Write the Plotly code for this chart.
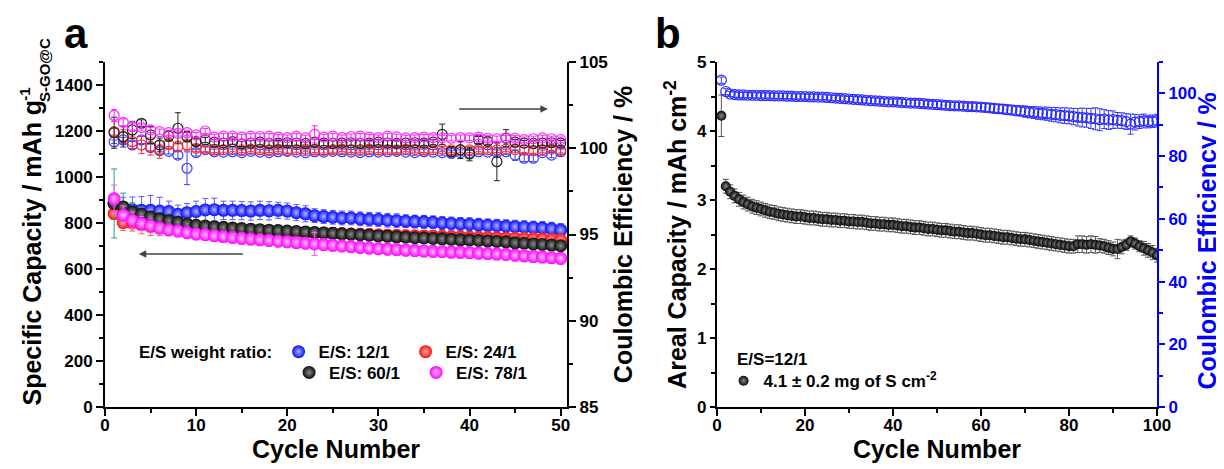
import plotly.graph_objects as go

# ---------------- Panel a data ----------------
cycles_a = list(range(1, 51))

cap_12 = [885, 862, 858, 855, 855, 852, 850, 838, 845, 850, 857, 858, 855, 855, 854, 852, 855, 853, 855, 852,
          845, 840, 832, 828, 825, 822, 822, 818, 816, 815, 812, 810, 808, 806, 805, 803, 800, 798, 796, 795,
          792, 790, 788, 786, 784, 782, 780, 778, 775, 770]
err_12 = [30, 50, 55, 60, 65, 60, 45, 40, 40, 45, 50, 50, 40, 40, 40, 40, 40, 40, 35, 35,
          35, 35, 30, 30, 30, 30, 30, 30, 30, 30, 30, 30, 28, 28, 28, 28, 28, 28, 28, 28,
          28, 28, 28, 28, 28, 28, 28, 28, 28, 28]
cap_24 = [841, 802, 800, 793, 785, 780, 776, 774, 772, 771, 770, 769, 768, 767, 766, 765, 764, 763, 762, 761,
          760, 758, 757, 756, 755, 753, 752, 751, 750, 748, 747, 746, 745, 744, 743, 742, 741, 740, 739, 738,
          737, 736, 735, 734, 733, 732, 731, 730, 728, 726]
err_24 = [25, 35, 35, 40, 40, 35, 30, 30, 25, 25, 25, 25, 25, 25, 25, 25, 25, 25, 25, 25,
          25, 25, 25, 25, 25, 25, 25, 25, 25, 25, 25, 25, 25, 25, 25, 25, 25, 25, 25, 25,
          25, 25, 25, 25, 25, 25, 25, 25, 25, 25]
cap_60 = [885, 870, 848, 838, 826, 818, 810, 803, 796, 790, 787, 784, 781, 778, 776, 773, 771, 769, 767, 765,
          763, 761, 759, 757, 755, 753, 751, 749, 747, 744, 742, 740, 738, 736, 735, 733, 731, 729, 727, 726,
          724, 722, 720, 718, 714, 712, 709, 707, 704, 701]
err_60 = [150, 60, 40, 30, 25, 25, 22, 22, 20, 20, 20, 20, 20, 20, 20, 20, 20, 20, 20, 20,
          20, 20, 20, 20, 20, 20, 20, 20, 20, 20, 20, 20, 20, 20, 20, 20, 20, 20, 20, 20,
          20, 20, 20, 20, 20, 20, 20, 20, 20, 20]
cap_78 = [905, 834, 812, 798, 788, 778, 770, 765, 758, 752, 749, 745, 741, 737, 733, 730, 727, 724, 721, 718,
          715, 712, 709, 706, 703, 700, 697, 694, 691, 688, 686, 684, 682, 680, 678, 676, 675, 673, 672, 671,
          669, 667, 665, 663, 660, 657, 654, 652, 649, 646]
err_78 = [60, 40, 35, 30, 30, 25, 25, 25, 25, 25, 25, 25, 25, 25, 25, 25, 25, 25, 25, 25,
          25, 25, 50, 25, 25, 25, 25, 25, 25, 25, 25, 25, 25, 25, 25, 25, 25, 25, 25, 25,
          25, 25, 25, 25, 25, 25, 25, 25, 25, 25]

ce_12 = [100.38, 100.48, 100.19, 100.48, 100.04, 99.86, 99.82, 99.6, 98.84, 99.75, 99.92, 99.8, 99.78, 99.8,
         99.75, 99.82, 99.78, 99.75, 99.8, 99.82, 99.78, 99.75, 99.8, 99.78, 99.82, 99.8, 99.78, 99.75, 99.8,
         99.78, 99.8, 99.82, 99.78, 99.75, 99.8, 99.78, 99.75, 99.7, 99.75, 99.72, 99.8, 99.78, 99.75, 99.8,
         99.6, 99.42, 99.42, 99.75, 99.6, 99.8]
ce_err_12 = [0.1, 0.15, 0.2, 0.2, 0.2, 0.2, 0.15, 0.2, 0.95, 0.2, 0.15, 0.15, 0.15, 0.15, 0.15, 0.15, 0.15,
             0.15, 0.15, 0.15, 0.15, 0.15, 0.15, 0.15, 0.15, 0.15, 0.15, 0.15, 0.15, 0.15, 0.15, 0.15, 0.15,
             0.15, 0.15, 0.15, 0.15, 0.15, 0.15, 0.15, 0.15, 0.15, 0.15, 0.15, 0.3, 0.2, 0.2, 0.15, 0.15, 0.15]
ce_24 = [100.96, 100.67, 100.38, 100.19, 100.1, 99.92, 100.25, 100.1, 100.19, 100.0, 99.95, 99.9, 99.92,
         99.95, 99.9, 99.95, 99.92, 99.9, 99.95, 99.88, 99.92, 99.95, 99.9, 99.88, 99.92, 99.95, 99.9, 99.92,
         99.95, 99.9, 99.92, 99.9, 99.95, 99.92, 99.9, 99.92, 99.95, 99.9, 99.92, 99.9, 99.95, 99.92, 99.9,
         99.95, 99.92, 99.9, 99.85, 99.92, 99.95, 99.88]
ce_err_24 = [0.2, 0.4, 0.4, 0.5, 0.5, 0.5, 0.3, 0.3, 0.3, 0.2, 0.15, 0.15, 0.15, 0.15, 0.15, 0.15, 0.15,
             0.15, 0.15, 0.15, 0.15, 0.15, 0.15, 0.15, 0.15, 0.15, 0.15, 0.15, 0.15, 0.15, 0.15, 0.15, 0.15,
             0.15, 0.15, 0.15, 0.15, 0.15, 0.15, 0.15, 0.15, 0.15, 0.15, 0.15, 0.15, 0.15, 0.15, 0.15, 0.15, 0.15]
ce_60 = [100.9, 100.67, 101.06, 101.45, 100.77, 100.19, 100.71, 101.16, 100.67, 100.38, 100.48, 100.35, 100.3,
         100.38, 100.25, 100.3, 100.35, 100.28, 100.3, 100.32, 100.3, 100.28, 100.35, 100.3, 100.28, 100.3,
         100.32, 100.28, 100.3, 100.35, 100.3, 100.28, 100.3, 100.32, 100.3, 100.35, 100.8, 99.8, 99.9, 99.67,
         100.48, 100.4, 99.22, 100.58, 100.35, 100.3, 100.28, 100.3, 100.32, 100.3]
ce_err_60 = [0.9, 0.6, 0.5, 0.2, 0.5, 0.4, 0.3, 0.9, 0.3, 0.2, 0.15, 0.15, 0.15, 0.15, 0.15, 0.15, 0.15,
             0.15, 0.15, 0.15, 0.15, 0.15, 0.15, 0.15, 0.15, 0.15, 0.15, 0.15, 0.15, 0.15, 0.15, 0.15, 0.15,
             0.15, 0.15, 0.15, 0.6, 0.3, 0.5, 0.4, 0.2, 0.2, 1.1, 0.5, 0.15, 0.15, 0.15, 0.15, 0.15, 0.15]
ce_78 = [101.9, 101.5, 101.25, 101.2, 101.06, 100.96, 100.9, 100.86, 100.9, 100.77, 101.0, 100.65, 100.7,
         100.7, 100.65, 100.7, 100.68, 100.7, 100.65, 100.62, 100.7, 100.6, 100.8, 100.65, 100.7, 100.62,
         100.68, 100.7, 100.65, 100.62, 100.7, 100.66, 100.6, 100.62, 100.65, 100.62, 100.6, 100.58, 100.62,
         100.6, 100.65, 100.58, 100.55, 100.6, 100.58, 100.5, 100.55, 100.6, 100.55, 100.5]
ce_err_78 = [0.35, 0.2, 0.2, 0.15, 0.15, 0.15, 0.15, 0.15, 0.15, 0.15, 0.15, 0.15, 0.15, 0.15, 0.15, 0.15,
             0.15, 0.15, 0.15, 0.15, 0.15, 0.15, 0.5, 0.15, 0.15, 0.15, 0.15, 0.15, 0.15, 0.15, 0.15, 0.15,
             0.15, 0.15, 0.15, 0.15, 0.15, 0.15, 0.15, 0.15, 0.15, 0.15, 0.15, 0.15, 0.15, 0.15, 0.15, 0.15,
             0.15, 0.15]

labels_a = ["E/S: 12/1", "E/S: 24/1", "E/S: 60/1", "E/S: 78/1"]

# ---------------- Panel b data ----------------
cycles_b = list(range(1, 101))
cap_b = [4.22, 3.20, 3.12, 3.06, 3.01, 2.97, 2.94, 2.91, 2.89, 2.87,
         2.85, 2.83, 2.82, 2.80, 2.79, 2.78, 2.77, 2.76, 2.76, 2.75,
         2.74, 2.74, 2.73, 2.72, 2.72, 2.71, 2.71, 2.70, 2.70, 2.69,
         2.69, 2.68, 2.68, 2.67, 2.66, 2.66, 2.65, 2.65, 2.64, 2.64,
         2.63, 2.62, 2.62, 2.61, 2.60, 2.60, 2.59, 2.58, 2.58, 2.57,
         2.56, 2.56, 2.55, 2.54, 2.54, 2.53, 2.52, 2.52, 2.51, 2.50,
         2.49, 2.49, 2.48, 2.47, 2.46, 2.46, 2.45, 2.44, 2.43, 2.43,
         2.42, 2.41, 2.40, 2.39, 2.38, 2.37, 2.36, 2.35, 2.34, 2.33,
         2.33, 2.36, 2.36, 2.35, 2.36, 2.35, 2.34, 2.33, 2.31, 2.29,
         2.29, 2.32, 2.35, 2.40, 2.37, 2.33, 2.30, 2.27, 2.24, 2.20]
cap_b_err = [0.30, 0.10, 0.10, 0.10, 0.10, 0.10, 0.10, 0.10, 0.10, 0.10,
             0.10, 0.10, 0.10, 0.10, 0.10, 0.10, 0.10, 0.10, 0.10, 0.10,
             0.10, 0.10, 0.10, 0.10, 0.10, 0.10, 0.10, 0.10, 0.10, 0.10,
             0.10, 0.10, 0.10, 0.10, 0.10, 0.10, 0.10, 0.10, 0.10, 0.10,
             0.10, 0.10, 0.10, 0.10, 0.10, 0.10, 0.10, 0.10, 0.10, 0.10,
             0.10, 0.10, 0.10, 0.10, 0.10, 0.10, 0.10, 0.10, 0.10, 0.10,
             0.10, 0.10, 0.10, 0.10, 0.10, 0.10, 0.10, 0.10, 0.10, 0.10,
             0.10, 0.10, 0.10, 0.10, 0.10, 0.10, 0.10, 0.10, 0.10, 0.10,
             0.10, 0.12, 0.12, 0.12, 0.12, 0.12, 0.10, 0.10, 0.10, 0.10,
             0.14, 0.10, 0.08, 0.08, 0.08, 0.08, 0.10, 0.10, 0.10, 0.10]
ce_b = [104.2, 100.6, 99.8, 99.6, 99.5, 99.5, 99.4, 99.4, 99.4, 99.3,
        99.3, 99.3, 99.2, 99.2, 99.2, 99.1, 99.1, 99.0, 99.0, 99.0,
        98.9, 98.9, 98.8, 98.8, 98.7, 98.6, 98.5, 98.4, 98.3, 98.2,
        98.1, 98.0, 97.9, 97.8, 97.7, 97.6, 97.5, 97.4, 97.3, 97.3,
        97.2, 97.1, 97.0, 96.9, 96.9, 96.8, 96.7, 96.6, 96.5, 96.4,
        96.3, 96.2, 96.1, 96.0, 96.0, 95.9, 95.8, 95.8, 95.7, 95.6,
        95.5, 95.4, 95.2, 95.1, 95.0, 94.8, 94.7, 94.5, 94.4, 94.2,
        94.0, 93.9, 93.7, 93.6, 93.5, 93.3, 93.2, 93.0, 92.9, 92.8,
        92.6, 92.4, 92.3, 92.2, 92.0, 91.9, 91.6, 91.8, 91.5, 91.6,
        91.4, 91.3, 91.0, 90.2, 90.8, 91.0, 91.2, 91.0, 91.1, 91.3]
ce_b_err = [1.0, 1.0, 0.8, 0.8, 0.8, 0.8, 0.8, 0.8, 0.8, 0.8,
            0.8, 0.8, 0.8, 0.8, 0.8, 0.8, 0.8, 0.8, 0.8, 0.8,
            0.8, 0.8, 0.8, 0.8, 0.8, 0.8, 0.8, 0.8, 0.8, 0.8,
            0.9, 0.9, 0.9, 0.9, 0.9, 0.9, 0.9, 0.9, 0.9, 0.9,
            1.0, 1.0, 1.0, 1.0, 1.0, 1.0, 1.0, 1.0, 1.0, 1.0,
            1.1, 1.1, 1.1, 1.1, 1.1, 1.1, 1.1, 1.2, 1.2, 1.2,
            1.3, 1.3, 1.3, 1.4, 1.4, 1.5, 1.5, 1.6, 1.6, 1.8,
            1.8, 1.9, 2.0, 2.0, 2.1, 2.2, 2.3, 2.4, 2.5, 2.5,
            2.6, 2.8, 3.0, 3.0, 3.2, 3.5, 3.5, 3.0, 3.0, 2.8,
            2.5, 2.5, 2.5, 3.2, 2.5, 2.2, 2.2, 2.0, 2.0, 2.0]

label_b = "4.1 ± 0.2 mg of S cm<sup>-2</sup>"

# ---------------- styles ----------------
FONT = "Liberation Sans, Arial, sans-serif"
fill_colors = ["#0a0aff", "#ff0a0a", "#0a0a0a", "#ff00ff"]
glow_colors = ["#aab4ff", "#ffb0b0", "#8a8a8a", "#ffc0ff"]
bar_colors = ["#5a5aff", "#ff5a5a", "#3a9a8a", "#ff5aff"]
open_colors = ["#3a3aff", "#ff2a2a", "#222222", "#ff22ff"]

fig = go.Figure()

ce_sets = [(ce_12, ce_err_12), (ce_24, ce_err_24), (ce_60, ce_err_60), (ce_78, ce_err_78)]
for i, (ce, er) in enumerate(ce_sets):
    fig.add_trace(go.Scatter(
        x=cycles_a, y=ce, xaxis="x", yaxis="y2", mode="markers", showlegend=False,
        marker=dict(symbol="circle-open", size=10, color=open_colors[i], line=dict(width=1.2)),
        error_y=dict(type="data", array=er, color=open_colors[i], thickness=1, width=3),
    ))

cap_sets = [(cap_12, err_12), (cap_24, err_24), (cap_60, err_60), (cap_78, err_78)]
legend_ids = ["legend", "legend", "legend2", "legend2"]
for i, (cp, er) in enumerate(cap_sets):
    fig.add_trace(go.Scatter(
        x=cycles_a, y=cp, xaxis="x", yaxis="y", mode="markers", name=labels_a[i],
        legend=legend_ids[i],
        marker=dict(size=13, color=fill_colors[i], line=dict(width=0),
                    gradient=dict(type="radial", color=glow_colors[i])),
        error_y=dict(type="data", array=er, color=bar_colors[i], thickness=1, width=3),
    ))

fig.add_trace(go.Scatter(
    x=cycles_b, y=ce_b, xaxis="x2", yaxis="y4", mode="markers", showlegend=False,
    marker=dict(symbol="circle-open", size=10, color="#2a2aff", line=dict(width=1.2)),
    error_y=dict(type="data", array=ce_b_err, color="#3a3aff", thickness=1, width=3),
))
fig.add_trace(go.Scatter(
    x=cycles_b, y=cap_b, xaxis="x2", yaxis="y3", mode="markers", name=label_b, legend="legend3",
    marker=dict(size=10, color="#050505", line=dict(width=0),
                gradient=dict(type="radial", color="#8a8a8a")),
    error_y=dict(type="data", array=cap_b_err, color="#555555", thickness=1, width=3),
))

tickfont = dict(family=FONT, size=17, color="black", weight="bold")
titlefont = dict(family=FONT, size=25, color="black", weight="bold")

common = dict(showline=True, linewidth=2, linecolor="black", ticks="outside", tickwidth=2,
              tickcolor="black", showgrid=False, zeroline=False, tickfont=tickfont, automargin=False)
top_common = dict(showline=True, linewidth=2, linecolor="black", ticks="inside", ticklen=7, tickwidth=2,
                  tickcolor="black", showticklabels=False, showgrid=False, zeroline=False, automargin=False)

def minor(step, color="black"):
    return dict(dtick=step, ticks="outside", ticklen=4, tickwidth=2, tickcolor=color)

dom_a = [0, 0.4392]
dom_b = [0.5817, 1]

fig.update_layout(
    width=1216, height=461,
    margin=dict(l=97, r=67, t=54, b=62, autoexpand=False),
    paper_bgcolor="white", plot_bgcolor="white",
    font=dict(family=FONT, color="black"),
    xaxis=dict(domain=dom_a, range=[0, 50.7], anchor="y", dtick=10, tick0=0, ticklen=7,
               ticklabelstandoff=-5, minor=minor(5),
               title=dict(text="Cycle Number", font=titlefont, standoff=6), **common),
    xaxis3=dict(domain=dom_a, range=[1.08, 50.76], anchor="y", overlaying="x", side="top",
                dtick=5, tick0=0, **top_common),
    yaxis=dict(domain=[0, 1], range=[0, 1500], anchor="x", dtick=200, tick0=0, ticklen=7,
               minor=minor(100), **common),
    yaxis2=dict(range=[85, 105], anchor="x", overlaying="y", side="right", dtick=5, tick0=85, ticklen=7,
                minor=minor(2.5),
                title=dict(text="Coulombic Efficiency / %", font=titlefont, standoff=8), **common),
    xaxis2=dict(domain=dom_b, range=[0, 100], anchor="y3", dtick=20, tick0=0, ticklen=7,
                ticklabelstandoff=-5, minor=minor(10),
                title=dict(text="Cycle Number", font=titlefont, standoff=6), **common),
    xaxis4=dict(domain=dom_b, range=[0, 100], anchor="y3", overlaying="x2", side="top",
                dtick=20, tick0=0, **top_common),
    yaxis3=dict(domain=[0, 1], range=[0, 5], anchor="x2", dtick=1, tick0=0, ticklen=5,
                minor=minor(0.5),
                title=dict(text="Areal Capacity / mAh cm<sup>-2</sup>", font=titlefont, standoff=3), **common),
    yaxis4=dict(range=[0, 110], anchor="x2", overlaying="y3", side="right", dtick=20, tick0=0,
                showline=True, linewidth=2, linecolor="#0000ff", ticks="outside", ticklen=6, tickwidth=2,
                tickcolor="#0000ff", showgrid=False, zeroline=False, automargin=False,
                tickfont=dict(family=FONT, size=17, color="#0000ff", weight="bold"),
                minor=minor(10, "#0000ff")),
    legend=dict(orientation="h", x=0.165, xanchor="left", y=0.159, yanchor="middle",
                entrywidth=82, entrywidthmode="pixels", bgcolor="rgba(0,0,0,0)",
                font=dict(family=FONT, size=17, color="black", weight="bold"), itemsizing="trace"),
    legend2=dict(orientation="h", x=0.175, xanchor="left", y=0.099, yanchor="middle",
                 entrywidth=82, entrywidthmode="pixels", bgcolor="rgba(0,0,0,0)",
                 font=dict(family=FONT, size=17, color="black", weight="bold"), itemsizing="trace"),
    legend3=dict(orientation="v", x=0.588, xanchor="left", y=0.075, yanchor="middle",
                 bgcolor="rgba(0,0,0,0)",
                 font=dict(family=FONT, size=17, color="black", weight="bold"), itemsizing="trace"),
)

bold = lambda size, color="black": dict(family=FONT, size=size, color=color, weight="bold")
annotations = [
    # left axis title of panel a, with the stacked g^-1 / S-GO@C unit
    dict(text="Specific Capacity / mAh g", xref="paper", yref="paper", x=-0.0694, y=0.4478,
         xanchor="center", yanchor="middle", textangle=-90, showarrow=False, font=bold(25)),
    dict(text="-1", xref="paper", yref="paper", x=-0.076, y=0.905,
         xanchor="center", yanchor="middle", textangle=-90, showarrow=False, font=bold(15)),
    dict(text="S-GO@C", xref="paper", yref="paper", x=-0.057, y=0.977,
         xanchor="center", yanchor="middle", textangle=-90, showarrow=False, font=bold(15)),
    # right axis title of panel b
    dict(text="Coulombic Efficiency / %", xref="paper", yref="paper", x=1.0475, y=0.4826,
         xanchor="center", yanchor="middle", textangle=-90, showarrow=False, font=bold(25, "#0000ff")),
    dict(text="a", xref="paper", yref="paper", x=-0.0271, y=1.153, xanchor="center", yanchor="top",
         borderpad=0, showarrow=False, font=bold(42)),
    dict(text="b", xref="paper", yref="paper", x=0.5347, y=1.153, xanchor="center", yanchor="top",
         borderpad=0, showarrow=False, font=bold(42)),
    dict(text="E/S weight ratio:", xref="paper", yref="paper", x=0.0304, y=0.159, xanchor="left",
         yanchor="middle", showarrow=False, font=bold(17)),
    dict(text="E/S=12/1", xref="paper", yref="paper", x=0.5989, y=0.138, xanchor="left",
         yanchor="middle", showarrow=False, font=bold(17)),
    dict(text="", xref="x", yref="y", x=3.7, y=665, axref="x", ayref="y", ax=15.3, ay=665,
         showarrow=True, arrowhead=2, arrowsize=1, arrowwidth=1.5, arrowcolor="#444444"),
    dict(text="", xref="x", yref="y", x=48.6, y=1296, axref="x", ayref="y", ax=38.7, ay=1296,
         showarrow=True, arrowhead=2, arrowsize=1, arrowwidth=1.5, arrowcolor="#444444"),
]
fig.update_layout(annotations=annotations)

fig.write_html("out.html")
